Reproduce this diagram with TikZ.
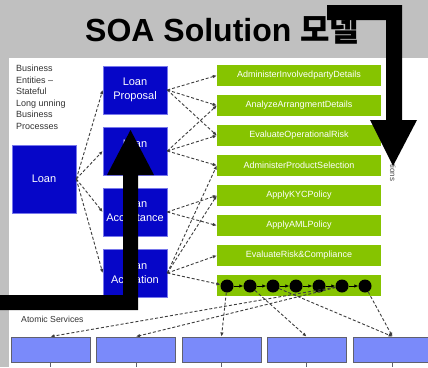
\documentclass[tikz,border=0pt]{standalone}
\usepackage{fontspec}
\setmainfont{Liberation Sans}
\newfontfamily\krfont{Noto Sans CJK KR}
\usetikzlibrary{arrows.meta}
\definecolor{bggray}{RGB}{192,192,192}
\definecolor{procblue}{RGB}{6,6,200}
\definecolor{procedge}{RGB}{120,120,235}
\definecolor{taskgreen}{RGB}{134,196,0}
\definecolor{atomblue}{RGB}{122,138,250}
\definecolor{atomedge}{RGB}{96,96,110}
\definecolor{linegray}{RGB}{60,60,60}
\begin{document}
\begin{tikzpicture}[x=1pt,y=-1pt,
  proc/.style={draw=procedge, line width=0.6pt, fill=procblue, text=white,
    minimum width=64pt, minimum height=48pt, inner sep=0pt, align=center,
    font=\fontsize{11}{14}\selectfont},
  task/.style={fill=taskgreen, text=white, minimum width=164pt,
    minimum height=21pt, inner sep=0pt, font=\fontsize{9}{10}\selectfont},
  atom/.style={draw=atomedge, line width=0.9pt, fill=atomblue,
    minimum width=79pt, minimum height=25pt, inner sep=0pt},
  dot/.style={circle, fill=black, minimum size=13pt, inner sep=0pt},
  flow/.style={draw=linegray, line width=0.9pt, dash pattern=on 3pt off 2pt,
    -{Latex[length=4pt,width=3.5pt]}},
  chain/.style={draw=black, line width=0.7pt, -{Latex[length=4pt,width=3.5pt]}},
  bigarrow/.style={fill=black}]
\useasboundingbox (0,0) rectangle (428,367);
\fill[bggray] (0,0) rectangle (428,367);
\fill[white] (9,58) rectangle (428,367);

% title
\node[anchor=base west, inner sep=0pt, font=\fontsize{32}{32}\selectfont\bfseries]
  (title) at (85,41) {SOA Solution {\krfont\bfseries 모델}};

% side note
\node[anchor=north west, inner sep=0pt, align=left, text=black!80,
  font=\fontsize{9}{11.5}\selectfont] (note) at (16,65)
  {Business\\Entities –\\Stateful\\Long unning\\Business\\Processes};

% business processes
\node[proc, minimum height=68pt] (loan) at (44,179) {Loan};
\node[proc] (pa) at (135,90) {Loan\\Proposal};
\node[proc] (pb) at (135,151) {Loan\\\mbox{}};
\node[proc] (pc) at (135,212) {Loan\\Acceptance};
\node[proc] (pd) at (135,273) {Loan\\Activation};

% business services
\node[task] (t1) at (299,75.5) {AdministerInvolvedpartyDetails};
\node[task] (t2) at (299,105.5) {AnalyzeArrangmentDetails};
\node[task] (t3) at (299,135.5) {EvaluateOperationalRisk};
\node[task] (t4) at (299,165.5) {AdministerProductSelection};
\node[task] (t5) at (299,195.5) {ApplyKYCPolicy};
\node[task] (t6) at (299,225.5) {ApplyAMLPolicy};
\node[task] (t7) at (299,255.5) {EvaluateRisk\&Compliance};
\node[task] (t8) at (299,285.5) {};

% orchestration steps
\node[dot] (c1) at (227,286) {};
\node[dot] (c2) at (250,286) {};
\node[dot] (c3) at (273,286) {};
\node[dot] (c4) at (296,286) {};
\node[dot] (c5) at (319,286) {};
\node[dot] (c6) at (342,286) {};
\node[dot] (c7) at (365,286) {};
\foreach \a/\b in {c1/c2,c2/c3,c3/c4,c4/c5,c5/c6,c6/c7}
  \draw[chain] (\a) -- (\b);

% atomic services
\node[anchor=west, inner sep=0pt, text=black!80, font=\fontsize{8.7}{10}\selectfont]
  (atomlabel) at (21,319) {Atomic Services};
\node[atom] (a1) at (50.5,349.5) {};
\node[atom] (a2) at (136,349.5) {};
\node[atom] (a3) at (221.5,349.5) {};
\node[atom] (a4) at (306.5,349.5) {};
\node[atom] (a5) at (392.5,349.5) {};
\foreach \n in {a1,a2,a3,a4,a5}
  \draw[atomedge, line width=0.6pt] (\n.south) -- ++(0,5);

% process flows
\foreach \p in {pa,pb,pc,pd}
  \draw[flow] (loan.east) -- (\p.west);
\foreach \t in {t1,t2,t3}
  \draw[flow] (pa.east) -- (\t.west);
\foreach \t in {t2,t3,t4}
  \draw[flow] (pb.east) -- (\t.west);
\foreach \t in {t5,t6}
  \draw[flow] (pc.east) -- (\t.west);
\foreach \t in {t4,t5,t7}
  \draw[flow] (pd.east) -- (\t.west);
\draw[flow] (pd.east) -- (c1);

% service to atomic calls
\draw[flow] (c1) -- (a3.north);
\draw[flow] (c2) -- (a4.north);
\draw[flow] (c3) -- (a5.north);
\draw[flow] (c7) -- (a5.north);
\draw[flow] (c6) -- (a1.north);
\draw[flow] (c6) -- (a2.north);

% vertical label
\node[rotate=-90, anchor=west, inner sep=0pt, text=black!70,
  font=\fontsize{8}{9}\selectfont] (sol) at (393,164) {tions};

% heavy arrows
\fill[bigarrow] (0,295) -- (123,295) -- (123,175) -- (107,175) -- (130.5,130)
  -- (154,175) -- (138,175) -- (138,310) -- (0,310) -- cycle;
\fill[bigarrow] (327,5) -- (402,5) -- (402,120) -- (417,120) -- (393,166)
  -- (370,120) -- (386,120) -- (386,20) -- (327,20) -- cycle;
\end{tikzpicture}
\end{document}
